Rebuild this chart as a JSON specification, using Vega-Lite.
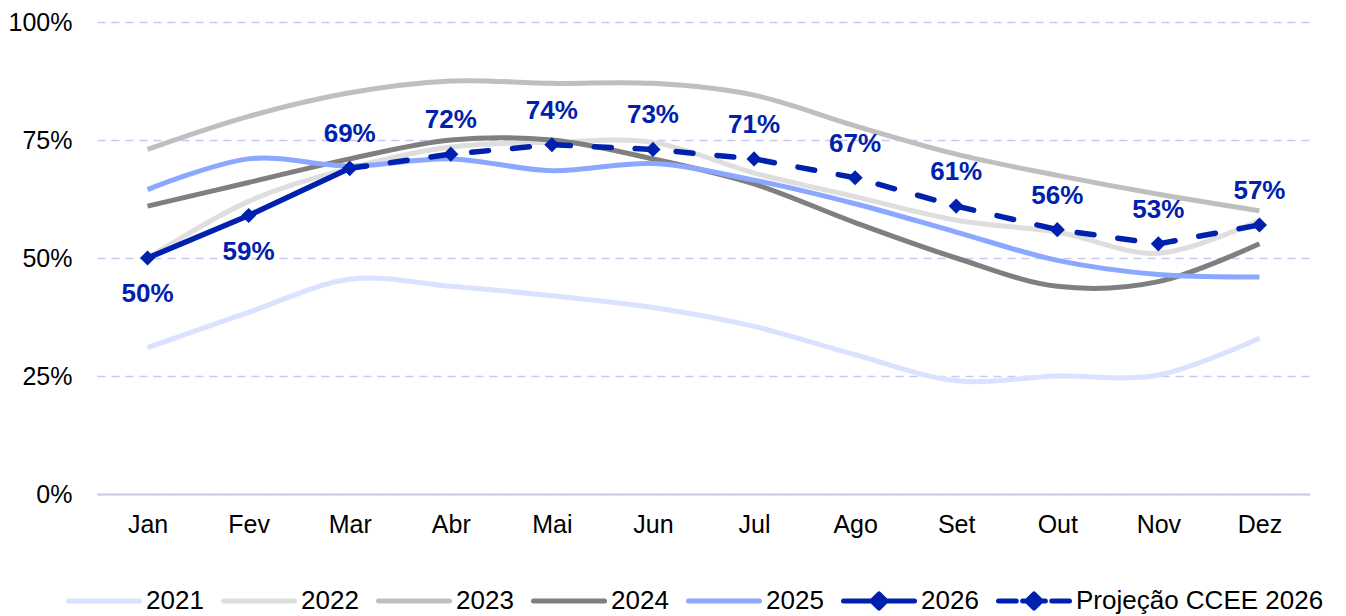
{
  "$schema": "https://vega.github.io/schema/vega-lite/v6.json",
  "width": 1213,
  "height": 472,
  "autosize": {"type": "none"},
  "padding": {"left": 97, "top": 22, "right": 36, "bottom": 122},
  "background": "white",
  "config": {"view": {"stroke": null}, "font": "Liberation Sans"},
  "data": {"values": [
    {"mes": "Jan", "serie": "2021", "v": 0.31},
    {"mes": "Fev", "serie": "2021", "v": 0.385},
    {"mes": "Mar", "serie": "2021", "v": 0.455},
    {"mes": "Abr", "serie": "2021", "v": 0.44},
    {"mes": "Mai", "serie": "2021", "v": 0.42},
    {"mes": "Jun", "serie": "2021", "v": 0.395},
    {"mes": "Jul", "serie": "2021", "v": 0.355},
    {"mes": "Ago", "serie": "2021", "v": 0.295},
    {"mes": "Set", "serie": "2021", "v": 0.24},
    {"mes": "Out", "serie": "2021", "v": 0.25},
    {"mes": "Nov", "serie": "2021", "v": 0.252},
    {"mes": "Dez", "serie": "2021", "v": 0.33},
    {"mes": "Jan", "serie": "2022", "v": 0.50},
    {"mes": "Fev", "serie": "2022", "v": 0.62},
    {"mes": "Mar", "serie": "2022", "v": 0.69},
    {"mes": "Abr", "serie": "2022", "v": 0.735},
    {"mes": "Mai", "serie": "2022", "v": 0.745},
    {"mes": "Jun", "serie": "2022", "v": 0.745},
    {"mes": "Jul", "serie": "2022", "v": 0.68},
    {"mes": "Ago", "serie": "2022", "v": 0.63},
    {"mes": "Set", "serie": "2022", "v": 0.58},
    {"mes": "Out", "serie": "2022", "v": 0.555},
    {"mes": "Nov", "serie": "2022", "v": 0.51},
    {"mes": "Dez", "serie": "2022", "v": 0.58},
    {"mes": "Jan", "serie": "2023", "v": 0.73},
    {"mes": "Fev", "serie": "2023", "v": 0.80},
    {"mes": "Mar", "serie": "2023", "v": 0.85},
    {"mes": "Abr", "serie": "2023", "v": 0.875},
    {"mes": "Mai", "serie": "2023", "v": 0.87},
    {"mes": "Jun", "serie": "2023", "v": 0.87},
    {"mes": "Jul", "serie": "2023", "v": 0.845},
    {"mes": "Ago", "serie": "2023", "v": 0.78},
    {"mes": "Set", "serie": "2023", "v": 0.72},
    {"mes": "Out", "serie": "2023", "v": 0.675},
    {"mes": "Nov", "serie": "2023", "v": 0.635},
    {"mes": "Dez", "serie": "2023", "v": 0.60},
    {"mes": "Jan", "serie": "2024", "v": 0.61},
    {"mes": "Fev", "serie": "2024", "v": 0.66},
    {"mes": "Mar", "serie": "2024", "v": 0.71},
    {"mes": "Abr", "serie": "2024", "v": 0.75},
    {"mes": "Mai", "serie": "2024", "v": 0.75},
    {"mes": "Jun", "serie": "2024", "v": 0.71},
    {"mes": "Jul", "serie": "2024", "v": 0.657},
    {"mes": "Ago", "serie": "2024", "v": 0.575},
    {"mes": "Set", "serie": "2024", "v": 0.50},
    {"mes": "Out", "serie": "2024", "v": 0.44},
    {"mes": "Nov", "serie": "2024", "v": 0.45},
    {"mes": "Dez", "serie": "2024", "v": 0.53},
    {"mes": "Jan", "serie": "2025", "v": 0.645},
    {"mes": "Fev", "serie": "2025", "v": 0.71},
    {"mes": "Mar", "serie": "2025", "v": 0.695},
    {"mes": "Abr", "serie": "2025", "v": 0.71},
    {"mes": "Mai", "serie": "2025", "v": 0.685},
    {"mes": "Jun", "serie": "2025", "v": 0.70},
    {"mes": "Jul", "serie": "2025", "v": 0.665},
    {"mes": "Ago", "serie": "2025", "v": 0.615},
    {"mes": "Set", "serie": "2025", "v": 0.555},
    {"mes": "Out", "serie": "2025", "v": 0.495},
    {"mes": "Nov", "serie": "2025", "v": 0.465},
    {"mes": "Dez", "serie": "2025", "v": 0.46},
    {"mes": "Jan", "serie": "2026", "v": 0.50},
    {"mes": "Fev", "serie": "2026", "v": 0.59},
    {"mes": "Mar", "serie": "2026", "v": 0.69},
    {"mes": "Mar", "serie": "Projeção CCEE 2026", "v": 0.69},
    {"mes": "Abr", "serie": "Projeção CCEE 2026", "v": 0.72},
    {"mes": "Mai", "serie": "Projeção CCEE 2026", "v": 0.74},
    {"mes": "Jun", "serie": "Projeção CCEE 2026", "v": 0.73},
    {"mes": "Jul", "serie": "Projeção CCEE 2026", "v": 0.71},
    {"mes": "Ago", "serie": "Projeção CCEE 2026", "v": 0.67},
    {"mes": "Set", "serie": "Projeção CCEE 2026", "v": 0.61},
    {"mes": "Out", "serie": "Projeção CCEE 2026", "v": 0.56},
    {"mes": "Nov", "serie": "Projeção CCEE 2026", "v": 0.53},
    {"mes": "Dez", "serie": "Projeção CCEE 2026", "v": 0.57}
  ]},
  "encoding": {
    "x": {
      "field": "mes", "type": "ordinal",
      "sort": ["Jan", "Fev", "Mar", "Abr", "Mai", "Jun", "Jul", "Ago", "Set", "Out", "Nov", "Dez"],
      "scale": {"type": "point", "padding": 0.5},
      "axis": {"title": null, "labelAngle": 0, "ticks": false, "tickSize": 0, "domain": true, "domainColor": "#c9c9f0", "domainWidth": 2, "grid": false, "labelFontSize": 25, "labelColor": "#000000", "labelPadding": 18, "labelFont": "Liberation Sans"}
    },
    "y": {
      "field": "v", "type": "quantitative",
      "scale": {"domain": [0, 1], "nice": false, "zero": true},
      "axis": {"title": null, "values": [0, 0.25, 0.5, 0.75, 1], "format": ".0%", "ticks": false, "tickSize": 0, "domain": false, "grid": true, "gridColor": "#c9c9f0", "gridDash": [8, 6], "gridWidth": 1.5, "labelFontSize": 25, "labelColor": "#000000", "labelPadding": 25, "labelFont": "Liberation Sans"}
    }
  },
  "layer": [
    {
      "transform": [{"filter": "datum.serie !== '2026' && datum.serie !== 'Projeção CCEE 2026'"}],
      "mark": {"type": "line", "interpolate": "cardinal", "strokeWidth": 5, "strokeCap": "butt"},
      "encoding": {
        "color": {
          "field": "serie", "type": "nominal",
          "scale": {
            "domain": ["2021", "2022", "2023", "2024", "2025", "2026", "Projeção CCEE 2026"],
            "range": ["#dae2ff", "#dedede", "#bfbfbf", "#7f7f7f", "#8aa8ff", "#0021ad", "#0021ad"]
          },
          "legend": {
            "title": null,
            "orient": "none",
            "direction": "horizontal",
            "legendX": -31,
            "legendY": 541,
            "padding": 0,
            "columnPadding": 17,
            "symbolType": "stroke",
            "symbolSize": 5041,
            "symbolStrokeWidth": 5,
            "labelOffset": 4,
            "labelFontSize": 26,
            "labelFont": "Liberation Sans",
            "labelColor": "#000000",
            "labelLimit": 400,
            "encode": {
              "symbols": {
                "update": {
                  "shape": {"signal": "datum.value === '2026' ? 'M-1,0H1M0,-0.2L0.2,0L0,0.2L-0.2,0Z' : (datum.value === 'Projeção CCEE 2026' ? 'M-1,0H-0.5M-0.32,0H0.32M0.5,0H1M0,-0.2L0.2,0L0,0.2L-0.2,0Z' : 'stroke')"},
                  "fill": {"value": "#0021ad"},
                  "strokeCap": {"value": "round"},
                  "strokeJoin": {"value": "round"},
                  "strokeDash": {"value": []},
                  "strokeWidth": {"value": 5},
                  "opacity": {"value": 1}
                }
              }
            }
          }
        }
      }
    },
    {
      "transform": [{"filter": "datum.serie === '2026'"}],
      "mark": {"type": "line", "strokeWidth": 5.5, "strokeCap": "round"},
      "encoding": {"color": {"field": "serie", "type": "nominal"}}
    },
    {
      "transform": [{"filter": "datum.serie === 'Projeção CCEE 2026'"}],
      "mark": {"type": "line", "strokeWidth": 5.5, "strokeCap": "round", "strokeDash": [17, 24]},
      "encoding": {"color": {"field": "serie", "type": "nominal"}}
    },
    {
      "transform": [{"filter": "datum.serie === '2026' || datum.serie === 'Projeção CCEE 2026'"}],
      "mark": {"type": "point", "shape": "diamond", "filled": true, "size": 230, "color": "#0021ad", "opacity": 1}
    },
    {
      "transform": [{"filter": "datum.serie === '2026' && (datum.mes === 'Jan' || datum.mes === 'Fev')"}],
      "mark": {"type": "text", "fontSize": 26, "fontWeight": "bold", "font": "Liberation Sans", "color": "#0021ad", "baseline": "middle", "dy": 36},
      "encoding": {"text": {"field": "v", "type": "quantitative", "format": ".0%"}}
    },
    {
      "transform": [{"filter": "(datum.serie === '2026' && datum.mes === 'Mar') || (datum.serie === 'Projeção CCEE 2026' && datum.mes !== 'Mar')"}],
      "mark": {"type": "text", "fontSize": 26, "fontWeight": "bold", "font": "Liberation Sans", "color": "#0021ad", "baseline": "middle", "dy": -34},
      "encoding": {"text": {"field": "v", "type": "quantitative", "format": ".0%"}}
    }
  ]
}
